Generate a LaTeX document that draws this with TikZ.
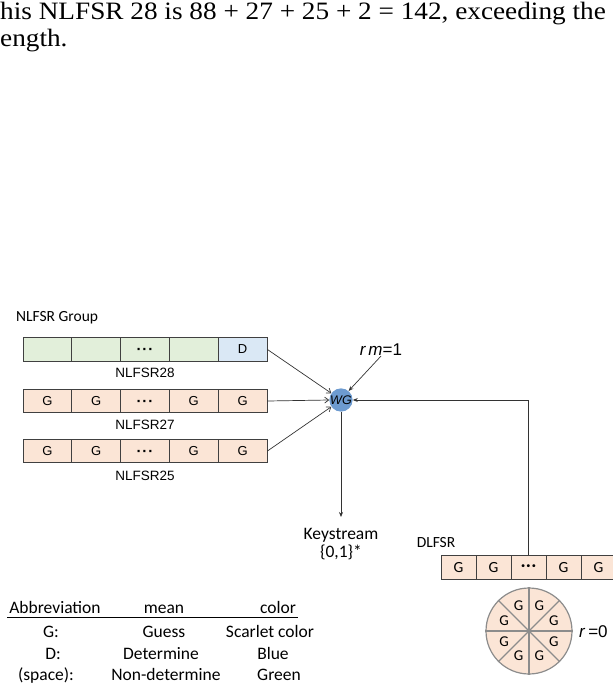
\documentclass[tikz,border=0pt]{standalone}
\usepackage{fontspec}
\setmainfont{Liberation Serif}
\newfontfamily\arialf{Liberation Sans}
\newfontfamily\calibf{Carlito}
\usetikzlibrary{arrows.meta}
\definecolor{scarlet}{HTML}{FBE5D6}
\definecolor{paleblue}{HTML}{DAE8F5}
\definecolor{palegreen}{HTML}{E2EFDA}
\definecolor{wgblue}{HTML}{6D9BD0}
\definecolor{cellline}{HTML}{404040}
\definecolor{piegray}{HTML}{8C8C8C}
% ellipsis cells: dots kept on the cell's centre line
\newcommand{\celldots}{\raisebox{-5pt}[0pt][0pt]{\fontsize{15}{15}\selectfont\bfseries ·\kern1pt·\kern1pt·}}
\newcommand{\dcelldots}{{\bfseries ·\kern1.2pt·\kern1.2pt·}}

\begin{document}
\begin{tikzpicture}[x=1pt,y=-1pt,
  cell/.style={draw=cellline, line width=0.9pt, minimum width=48.8pt,
    minimum height=23.5pt, inner sep=0pt, font=\arialf\fontsize{13}{13}\selectfont},
  dcell/.style={cell, minimum width=35pt, font=\calibf\fontsize{15.5}{15.5}\selectfont},
  rowlbl/.style={inner sep=0pt, font=\arialf\fontsize{13.5}{14}\selectfont},
  callbl/.style={inner sep=0pt, font=\calibf\fontsize{15.5}{16}\selectfont},
  legend/.style={inner sep=0pt, anchor=base, font=\calibf\fontsize{17.5}{18}\selectfont},
  openarrow/.style={-{Straight Barb[length=4pt,width=6pt]}, draw=black!80, line width=0.7pt},
  fillarrow/.style={-{Stealth[length=5pt,width=4pt]}, draw=black!80, line width=0.7pt}]

\useasboundingbox (0,0) rectangle (613,689);
\clip (0,0) rectangle (613,689);

% running text above the figure
\node[anchor=base west, inner sep=0pt, font=\fontsize{25}{27}\selectfont] (intro1) at (0,19)
  {\scalebox{1.09}[1]{his NLFSR 28 is 88 + 27 + 25 + 2 = 142, exceeding the}};
\node[anchor=base west, inner sep=0pt, font=\fontsize{25}{27}\selectfont] (intro2) at (0,46)
  {\scalebox{1.09}[1]{ength.}};

% NLFSR group
\node[callbl, anchor=west] (grp) at (16,318) {NLFSR Group};

\foreach \i/\t/\f in {1//palegreen, 2//palegreen, 3/\celldots/palegreen, 4//palegreen, 5/D/paleblue}
  \node[cell, fill=\f] (n28c\i) at ({47.4+48.8*(\i-1)}, 349.5) {\t};
\foreach \i/\t in {1/G, 2/G, 3/\celldots, 4/G, 5/G}
  \node[cell, fill=scarlet] (n27c\i) at ({47.4+48.8*(\i-1)}, 401) {\t};
\foreach \i/\t in {1/G, 2/G, 3/\celldots, 4/G, 5/G}
  \node[cell, fill=scarlet] (n25c\i) at ({47.4+48.8*(\i-1)}, 451) {\t};

\node[rowlbl] (n28lbl) at (145,373) {NLFSR28};
\node[rowlbl] (n27lbl) at (145,425) {NLFSR27};
\node[rowlbl] (n25lbl) at (145,476) {NLFSR25};

% filter function
\node[circle, fill=wgblue, minimum size=22pt, inner sep=0pt,
  font=\arialf\itshape\fontsize{12.5}{12.5}\selectfont] (wg) at (341,400) {WG};
\node[inner sep=0pt, font=\arialf\fontsize{17}{17}\selectfont] (rm) at (381,350) {\textit{r\,m}=1};

\draw[openarrow] (n28c5.east) -- (wg.145);
\draw[openarrow] (n27c5.east) -- (wg.west);
\draw[openarrow] (n25c5.east) -- (wg.215);
\draw[fillarrow] (rm.south) -- (wg.50);

% keystream output
\node[inner sep=1pt, align=center, anchor=north, font=\calibf\fontsize{17.5}{18}\selectfont]
  (ks) at (341,527) {Keystream\\\{0,1\}*};
\draw[fillarrow, shorten >=10pt] (wg.south) -- (ks.north);

% DLFSR
\node[callbl] (dl) at (436,543) {DLFSR};
\foreach \i/\t in {1/G, 2/G, 3/\dcelldots, 4/G, 5/G}
  \node[dcell, fill=scarlet] (dlc\i) at ({458.5+35*(\i-1)}, 567.5) {\t};
\draw[fillarrow] (dlc3.north) |- (wg.east);

% state wheel
\node[circle, draw=piegray, fill=scarlet, line width=1.2pt, minimum size=86pt, inner sep=0pt] (pie) at (529,631) {};
\foreach \a/\b in {0/180, 45/225, 90/270, 135/315}
  \draw[piegray, line width=1.2pt] (pie.\a) -- (pie.\b);
\foreach \a [count=\k] in {22.5,67.5,112.5,157.5,202.5,247.5,292.5,337.5}
  \node[inner sep=0pt, font=\calibf\fontsize{15}{15}\selectfont] (pg\k) at ([shift={(\a:27)}]pie.center) {G};
\node[anchor=west, inner sep=0pt, font=\arialf\fontsize{17}{17}\selectfont] (r0) at (579,632) {\textit{r}\,=0};

% legend
\node[legend] (hab) at (55,613) {Abbreviation};
\node[legend] (hme) at (164,613) {mean};
\node[legend] (hco) at (278,613) {color};
\draw[line width=0.9pt] (7,617) -- (298,617);
\node[legend] (lg1) at (51,637.5) {G:};
\node[legend] (lg2) at (164,637.5) {Guess};
\node[legend] (lg3) at (270,637.5) {Scarlet color};
\node[legend] (ld1) at (53,659) {D:};
\node[legend] (ld2) at (161,659) {Determine};
\node[legend] (ld3) at (273,659) {Blue};
\node[legend] (ls1) at (46,680.5) {(space):};
\node[legend] (ls2) at (166,680.5) {Non-determine};
\node[legend] (ls3) at (279,680.5) {Green};
\end{tikzpicture}
\end{document}
